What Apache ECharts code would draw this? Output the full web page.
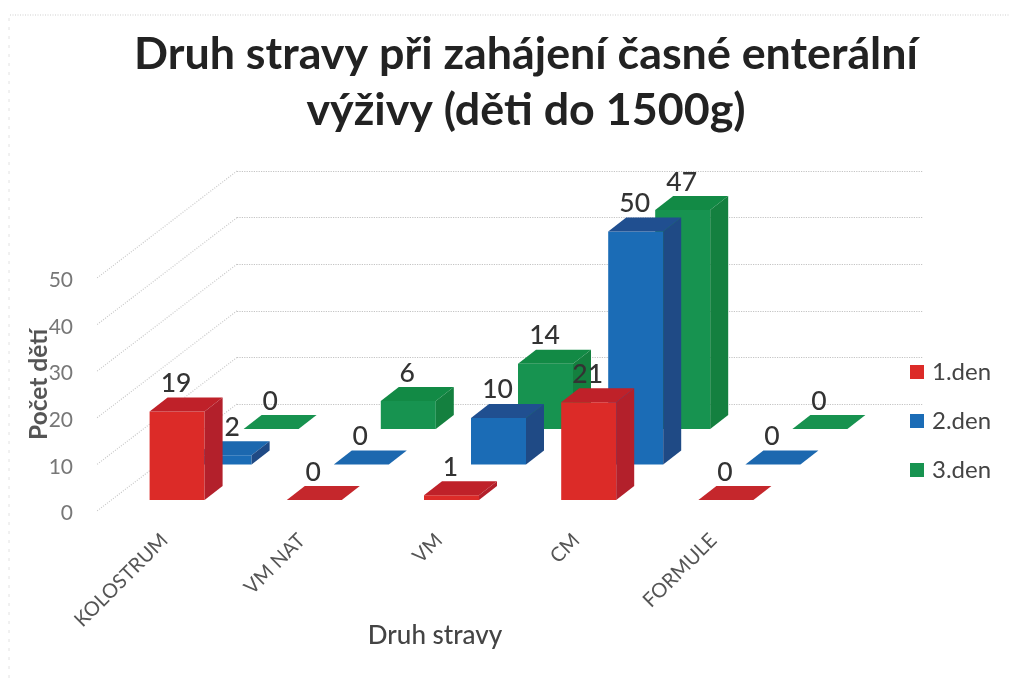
<!DOCTYPE html>
<html><head><meta charset="utf-8">
<style>html,body{margin:0;padding:0;background:#fff}#c{width:1010px;height:679px}</style>
<script src="https://cdn.jsdelivr.net/npm/echarts@6/dist/echarts.min.js"></script>
</head><body><div id="c"></div>
<script>
const categories = ['KOLOSTRUM','VM NAT','VM','CM','FORMULE'];
const den1 = [19,0,1,21,0];
const den2 = [2,0,10,50,0];
const den3 = [0,6,14,47,0];
const yTicks = [0,10,20,30,40,50];
const seriesNames = ['1.den','2.den','3.den'];

const FONT = 'Lato';
const H = 233, W = 686;
// one flat grid per depth row, each sits further right and up
const rows = [
  {left:108.5, bottom:500},
  {left:155.5, bottom:464.5},
  {left:202.5, bottom:429}
];
const wall = {left:237, bottom:404};
const front = {left:96, bottom:513.5};
const WALL_DX = 140, WALL_DY = 107;
const BAR = 55, DX = 18, DY = 14;
const faces = [
  {front:'#dc2b28', top:'#bf2129', side:'#b3202b', flat:'#c5272c'},
  {front:'#1b6cb6', top:'#204f90', side:'#1f4a85', flat:'#1c68af'},
  {front:'#179350', top:'#128a45', side:'#14803f', flat:'#17924f'}
];
const labelShift = {'1:0':9};

function grid(g){return {left:g.left, top:g.bottom-H, width:W, height:H};}
const grids = [front, wall, ...rows].map(grid);
const xAxes = grids.map((g,i)=>({
  type:'category', gridIndex:i, data:categories, show:i===0,
  axisLine:{show:false}, axisTick:{show:false},
  axisLabel:{rotate:45, interval:0, margin:23.5, fontFamily:FONT, fontSize:20, color:'#555'},
  name:i===0?'Druh stravy':'', nameLocation:'middle', nameGap:109.5, nameMoveOverlap:false,
  nameTextStyle:{fontFamily:FONT, fontSize:26, fontWeight:500, color:'#444', padding:[0,8,0,0]}
}));
const yAxes = grids.map((g,i)=>({
  type:'value', gridIndex:i, min:0, max:50, interval:10, show:i<=1,
  axisLine:{show:false}, axisTick:{show:false},
  axisLabel:{show:i===0, margin:23, fontFamily:FONT, fontSize:21, color:'#777'},
  splitLine:{show:i===1, lineStyle:{color:'#c4c4c4', type:'dotted', width:1.2}},
  name:i===0?'Počet dětí':'', nameLocation:'middle', nameGap:44, nameRotate:90, nameMoveOverlap:false,
  nameTextStyle:{fontFamily:FONT, fontSize:24.5, fontWeight:'bold', color:'#555', padding:[0,0,0,25]}
}));

function bars(rowIndex, values){
  const f = faces[rowIndex];
  return {
    type:'custom', name:seriesNames[rowIndex], xAxisIndex:rowIndex+2, yAxisIndex:rowIndex+2,
    z:5-rowIndex, itemStyle:{color:f.front}, clip:false,
    encode:{x:0,y:1},
    data:values.map((v,i)=>[i,v]),
    renderItem(params, api){
      const i = api.value(0), v = api.value(1);
      const t = api.coord([i,v]), b = api.coord([i,0]);
      const x0 = t[0]-BAR/2, x1 = t[0]+BAR/2, yT = t[1], yB = b[1];
      const poly=(pts,c)=>({type:'polygon',shape:{points:pts},style:{fill:c}});
      const flat = v<=2 && rowIndex>0 || v===0;
      const shift = labelShift[rowIndex+':'+i] || 0;
      return {type:'group',children:[
        poly([[x0,yT],[x1,yT],[x1,yB],[x0,yB]],f.front),
        poly([[x0,yT],[x0+DX,yT-DY],[x1+DX,yT-DY],[x1,yT]],flat?f.flat:f.top),
        poly([[x1,yT],[x1+DX,yT-DY],[x1+DX,yB-DY],[x1,yB]],f.side),
        {type:'text',z2:10,style:{text:String(v),x:t[0]-1+shift,y:yT-28,align:'center',verticalAlign:'middle',
          font:'500 26.5px '+FONT,fill:'#333'}}
      ]};
    }
  };
}

const sideWall = {
  type:'custom', xAxisIndex:1, yAxisIndex:1, z:1, silent:true, clip:false,
  encode:{y:0}, data:yTicks.map(v=>[v]),
  renderItem(params, api){
    const p = api.coord([0,api.value(0)]);
    const x = params.coordSys.x;
    return {type:'line',shape:{x1:x,y1:p[1],x2:x-WALL_DX,y2:p[1]+WALL_DY},
      style:{stroke:'#c8c8c8',lineWidth:1.2,lineDash:[1,1.5]}};
  }
};

const chart = echarts.init(document.getElementById('c'));
chart.setOption({
  animation:false, backgroundColor:'#fff',
  title:{text:'Druh stravy při zahájení časné enterální\nvýživy (děti do 1500g)',
    left:521, top:22, textAlign:'center',
    textStyle:{fontFamily:FONT, fontSize:44.8, fontWeight:'bold', color:'#222', lineHeight:56}},
  legend:{data:seriesNames, orient:'vertical', left:905, top:355, icon:'rect',
    itemWidth:14, itemHeight:14, itemGap:25,
    textStyle:{fontFamily:FONT, fontSize:24, color:'#444', padding:[0,0,0,3]}},
  graphic:[
    {type:'line',silent:true,shape:{x1:10,y1:15,x2:1010,y2:15},style:{stroke:'#cfcfcf',lineWidth:1.2,lineDash:[1,1.5]}},
    {type:'line',silent:true,shape:{x1:9,y1:18,x2:9,y2:679},style:{stroke:'#e2e2e2',lineWidth:1,lineDash:[3,6]}}
  ],
  grid:grids, xAxis:xAxes, yAxis:yAxes,
  series:[sideWall, bars(2,den3), bars(1,den2), bars(0,den1)]
});
</script></body></html>
